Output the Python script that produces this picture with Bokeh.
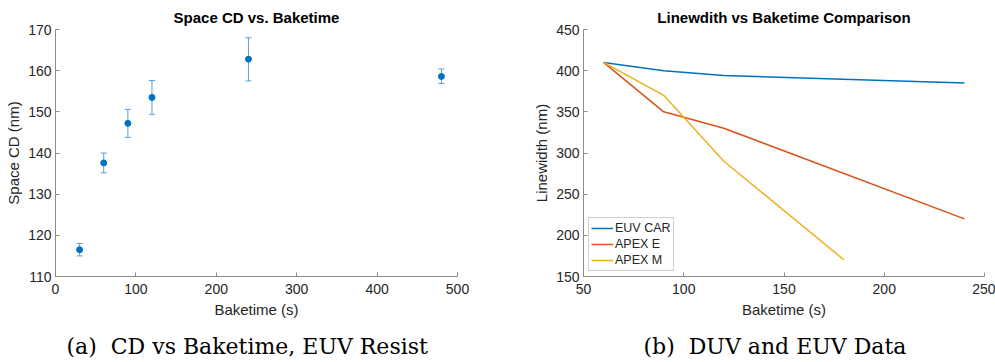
from bokeh.plotting import figure
from bokeh.models import (ColumnDataSource, Whisker, TeeHead, Range1d, FixedTicker,
                          Legend, LegendItem, Title)
from bokeh.layouts import row
from bokeh.embed import file_html
from bokeh.resources import INLINE

# ---- data: left panel (Space CD vs baketime) ----
bake_a = [30, 60, 90, 120, 240, 480]
cd_mean = [116.5, 137.6, 147.2, 153.5, 162.8, 158.6]
cd_low = [115.0, 135.2, 143.8, 149.4, 157.5, 156.9]
cd_high = [118.0, 140.0, 150.6, 157.6, 168.0, 160.4]
xticks_a = [0, 100, 200, 300, 400, 500]
yticks_a = [110, 120, 130, 140, 150, 160, 170]

# ---- data: right panel (linewidth vs baketime) ----
bake_euv = [60, 90, 120, 240]
lw_euv = [410, 400, 394, 385]
bake_apex_e = [60, 90, 120, 240]
lw_apex_e = [410, 350, 330, 220]
bake_apex_m = [60, 90, 120, 180]
lw_apex_m = [410, 370, 290, 170]
xticks_b = [50, 100, 150, 200, 250]
yticks_b = [150, 200, 250, 300, 350, 400, 450]

FONT = "Liberation Sans"
SERIF = "DejaVu Serif"
AX = "#8c8c8c"
TXT = "#262626"


def style(p):
    p.xgrid.visible = False
    p.ygrid.visible = False
    p.outline_line_color = None
    p.background_fill_color = "white"
    p.border_fill_color = "white"
    p.title.text_font = FONT
    p.title.text_font_size = "15px"
    p.title.text_font_style = "bold"
    p.title.align = "center"
    p.title.text_color = "black"
    p.title.standoff = 8
    for ax in (p.xaxis[0], p.yaxis[0]):
        ax.axis_line_color = AX
        ax.major_tick_line_color = AX
        ax.major_tick_in = 4
        ax.major_tick_out = 0
        ax.minor_tick_line_color = None
        ax.major_label_text_font = FONT
        ax.major_label_text_font_size = "14px"
        ax.major_label_text_color = TXT
        ax.axis_label_text_font = FONT
        ax.axis_label_text_font_size = "15px"
        ax.axis_label_text_font_style = "normal"
        ax.axis_label_text_color = TXT
        ax.major_label_standoff = 4
    p.xaxis[0].major_label_standoff = 7
    p.xaxis[0].axis_label_standoff = 4
    p.yaxis[0].axis_label_standoff = 3


def caption(p, text, offset):
    # thin invisible spacer between the x axis and the caption
    p.add_layout(Title(text="\u00a0", text_font_size="2px", standoff=9), "below")
    p.add_layout(Title(text=text, align="left", offset=offset, vertical_align="top",
                       standoff=0, text_font=SERIF, text_font_size="22px",
                       text_font_style="normal", text_color="black"), "below")


# ---------- left ----------
p1 = figure(width=500, height=362, x_range=Range1d(0, 500), y_range=Range1d(110, 170),
            output_backend="svg", toolbar_location=None,
            min_border_left=55, min_border_right=43, min_border_top=29, min_border_bottom=86,
            title="Space CD vs. Baketime")
style(p1)
p1.xaxis.ticker = FixedTicker(ticks=xticks_a)
p1.yaxis.ticker = FixedTicker(ticks=yticks_a)
p1.xaxis.axis_label = "Baketime (s)"
p1.yaxis.axis_label = "Space CD (nm)"

src_a = ColumnDataSource(dict(x=bake_a, y=cd_mean, lo=cd_low, hi=cd_high))
ebc = "#5a9fd6"
p1.add_layout(Whisker(source=src_a, base="x", lower="lo", upper="hi", dimension="height",
                      line_color=ebc, line_width=1,
                      lower_head=TeeHead(size=6, line_color=ebc, line_width=1),
                      upper_head=TeeHead(size=6, line_color=ebc, line_width=1)))
p1.scatter("x", "y", source=src_a, size=6, fill_color="#0072BD", line_color="#0072BD")
caption(p1, "(a)\u00a0 CD vs Baketime, EUV Resist", 11)

# ---------- right ----------
p2 = figure(width=495, height=362, x_range=Range1d(50, 250), y_range=Range1d(150, 450),
            output_backend="svg", toolbar_location=None,
            min_border_left=83, min_border_right=11, min_border_top=29, min_border_bottom=86,
            title="Linewdith vs Baketime Comparison")
style(p2)
p2.xaxis.ticker = FixedTicker(ticks=xticks_b)
p2.yaxis.ticker = FixedTicker(ticks=yticks_b)
p2.xaxis.axis_label = "Baketime (s)"
p2.yaxis.axis_label = "Linewidth (nm)"

r1 = p2.line(bake_euv, lw_euv, line_color="#0072BD", line_width=1.5)
r2 = p2.line(bake_apex_e, lw_apex_e, line_color="#D95319", line_width=1.5)
r3 = p2.line(bake_apex_m, lw_apex_m, line_color="#EDB120", line_width=1.5)

leg = Legend(items=[LegendItem(label="EUV CAR", renderers=[r1]),
                    LegendItem(label="APEX E", renderers=[r2]),
                    LegendItem(label="APEX M", renderers=[r3])],
             location="bottom_left", margin=5, padding=2, spacing=0,
             label_height=16, glyph_height=16, glyph_width=22, label_standoff=2,
             label_text_font=FONT, label_text_font_size="12.5px", label_text_color=TXT,
             border_line_color="#a0a0a0", border_line_width=1,
             background_fill_color="white", background_fill_alpha=1)
p2.add_layout(leg, "center")
caption(p2, "(b)\u00a0 DUV and EUV Data", 60)

layout = row(p1, p2)
open("out.html", "w").write(file_html(layout, INLINE))
